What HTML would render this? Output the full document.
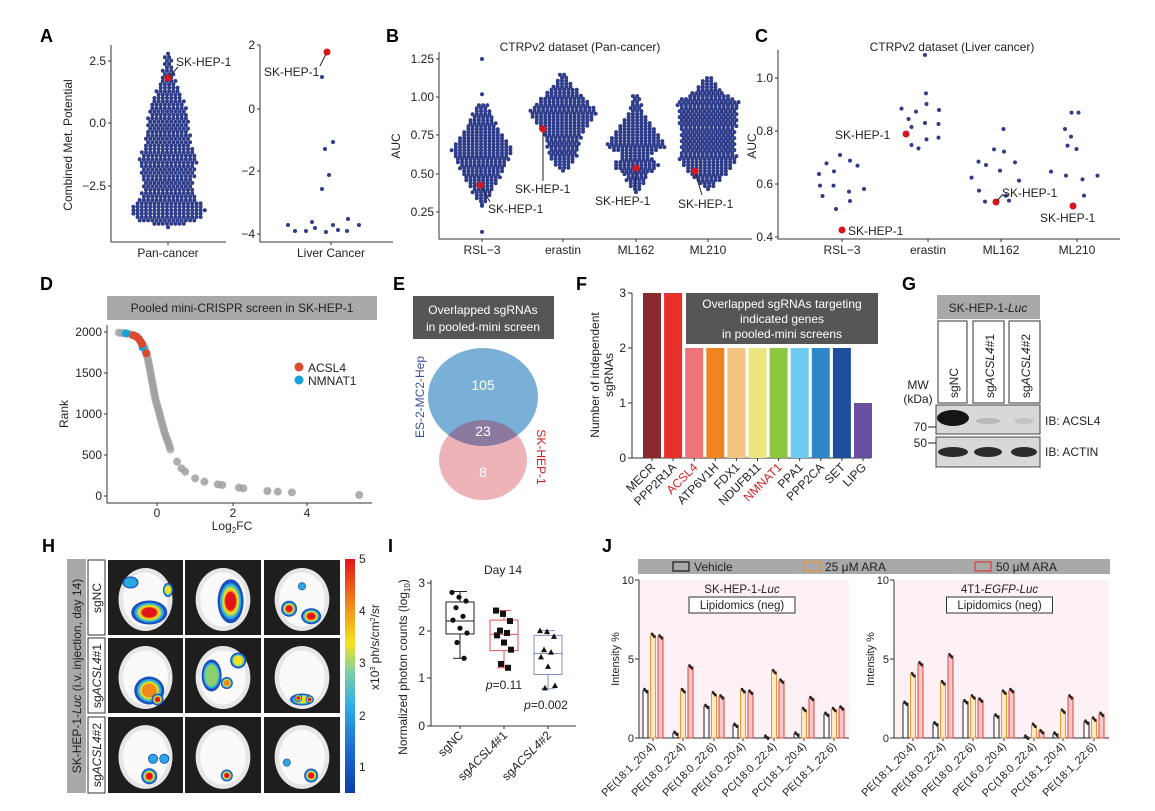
<!DOCTYPE html>
<html><head><meta charset="utf-8"><style>
html,body{margin:0;padding:0;background:#fff;}
svg{display:block;font-family:"Liberation Sans",Arial,sans-serif;}
.t{font-size:12px;fill:#222}
.pl{font-size:18px;font-weight:bold;fill:#000}
</style></head><body>
<svg id="s" width="1155" height="811" viewBox="0 0 1155 811" xmlns="http://www.w3.org/2000/svg">
<defs>
<linearGradient id="jet" x1="0" y1="1" x2="0" y2="0">
<stop offset="0" stop-color="#0a3fa8"/><stop offset="0.2" stop-color="#1f6fd0"/><stop offset="0.38" stop-color="#2fb0e6"/><stop offset="0.52" stop-color="#7fd0a0"/><stop offset="0.64" stop-color="#f2e41c"/><stop offset="0.8" stop-color="#f28a1a"/><stop offset="1" stop-color="#e3141a"/>
</linearGradient>
</defs>
<text class="pl" x="40" y="42">A</text><text class="pl" x="386" y="42">B</text><text class="pl" x="755" y="42">C</text>
<text class="pl" x="40" y="290">D</text><text class="pl" x="393" y="290">E</text><text class="pl" x="576" y="290">F</text><text class="pl" x="902" y="290">G</text>
<text class="pl" x="42" y="552">H</text><text class="pl" x="388" y="552">I</text><text class="pl" x="602" y="552">J</text>

<g stroke="#333" stroke-width="1" fill="none">
<path d="M111 45 V242 H226"/><path d="M260 45 V242 H393"/>
<path d="M108 61h3M108 123h3M108 186h3M257 45h3M257 109h3M257 171h3M257 234h3M168 242v3M331 242v3"/>
</g>
<g class="t" text-anchor="end" font-size="12">
<text x="106" y="65">2.5</text><text x="106" y="127">0.0</text><text x="106" y="190">−2.5</text>
<text x="255" y="49">2</text><text x="255" y="113">0</text><text x="255" y="175">−2</text><text x="255" y="238">−4</text>
</g>
<text class="t" x="72" y="145" transform="rotate(-90 72 145)" text-anchor="middle">Combined Met. Potential</text>
<text class="t" x="168" y="257" text-anchor="middle">Pan-cancer</text>
<text class="t" x="331" y="257" text-anchor="middle">Liver Cancer</text>
<g id="swA"></g>
<circle cx="168" cy="78" r="3.5" fill="#d9161c"/>
<line x1="170" y1="76" x2="178" y2="67" stroke="#222"/>
<text class="t" x="176" y="66">SK-HEP-1</text>
<g id="liverA" fill="#2e3d8a"></g>
<circle cx="327" cy="52" r="3.5" fill="#d9161c"/>
<line x1="326" y1="54" x2="320" y2="66" stroke="#222"/>
<text class="t" x="264" y="76">SK-HEP-1</text>

<text class="t" x="580" y="51" text-anchor="middle">CTRPv2 dataset (Pan-cancer)</text>
<g stroke="#333" fill="none"><path d="M439 52 V239 H752"/><path d="M436 59h3M436 97h3M436 135h3M436 174h3M436 212h3M482 239v3M563 239v3M636 239v3M708 239v3"/></g>
<g class="t" text-anchor="end"><text x="434" y="63">1.25</text><text x="434" y="101">1.00</text><text x="434" y="139">0.75</text><text x="434" y="178">0.50</text><text x="434" y="216">0.25</text></g>
<text class="t" x="400" y="146" transform="rotate(-90 400 146)" text-anchor="middle">AUC</text>
<g class="t" text-anchor="middle"><text x="482" y="254">RSL−3</text><text x="563" y="254">erastin</text><text x="636" y="254">ML162</text><text x="708" y="254">ML210</text></g>
<g id="swB"></g>
<g stroke="#222"><line x1="481" y1="186" x2="490" y2="202"/><line x1="543" y1="130" x2="543" y2="181"/><line x1="636" y1="169" x2="635" y2="190"/><line x1="695" y1="172" x2="702" y2="195"/></g>
<g fill="#d9161c"><circle cx="480" cy="185" r="3.5"/><circle cx="543" cy="129" r="3.5"/><circle cx="636" cy="168" r="3.5"/><circle cx="695" cy="171" r="3.5"/></g>
<g class="t"><text x="488" y="213">SK-HEP-1</text><text x="515" y="193">SK-HEP-1</text><text x="595" y="205">SK-HEP-1</text><text x="678" y="208">SK-HEP-1</text></g>

<text class="t" x="952" y="51" text-anchor="middle">CTRPv2 dataset (Liver cancer)</text>
<g stroke="#333" fill="none"><path d="M778 50 V239 H1120"/><path d="M775 78h3M775 131h3M775 184h3M775 237h3M842 239v3M928 239v3M1001 239v3M1077 239v3"/></g>
<g class="t" text-anchor="end"><text x="773" y="82">1.0</text><text x="773" y="135">0.8</text><text x="773" y="188">0.6</text><text x="773" y="241">0.4</text></g>
<text class="t" x="756" y="146" transform="rotate(-90 756 146)" text-anchor="middle">AUC</text>
<g class="t" text-anchor="middle"><text x="842" y="254">RSL−3</text><text x="928" y="254">erastin</text><text x="1001" y="254">ML162</text><text x="1077" y="254">ML210</text></g>
<g id="swC" fill="#2e3d8a"></g>
<g fill="#d9161c"><circle cx="842" cy="230" r="3.5"/><circle cx="906" cy="134" r="3.5"/><circle cx="996" cy="202" r="3.5"/><circle cx="1073" cy="206" r="3.5"/></g>
<g class="t"><text x="848" y="235">SK-HEP-1</text><text x="835" y="139">SK-HEP-1</text><text x="1002" y="197">SK-HEP-1</text><text x="1040" y="222">SK-HEP-1</text></g>
<line x1="997" y1="201" x2="1003" y2="194" stroke="#222"/>

<rect x="107" y="296" width="270" height="24" fill="#a9a9a9"/>
<text class="t" x="242" y="312" text-anchor="middle" font-size="12">Pooled mini-CRISPR screen in SK-HEP-1</text>
<g stroke="#333" fill="none"><path d="M107 325 V503 H372"/><path d="M104 332h3M104 373h3M104 414h3M104 455h3M104 496h3M157 503v3M233 503v3M307 503v3"/></g>
<g class="t" text-anchor="end"><text x="102" y="336">2000</text><text x="102" y="377">1500</text><text x="102" y="418">1000</text><text x="102" y="459">500</text><text x="102" y="500">0</text></g>
<g class="t" text-anchor="middle"><text x="157" y="517">0</text><text x="233" y="517">2</text><text x="307" y="517">4</text></g>
<text class="t" x="232" y="530" text-anchor="middle">Log<tspan font-size="8" dy="3">2</tspan><tspan dy="-3">FC</tspan></text>
<text class="t" x="68" y="414" transform="rotate(-90 68 414)" text-anchor="middle">Rank</text>
<g id="dD"></g>
<circle cx="299" cy="367" r="4.5" fill="#d94a2e"/><text class="t" x="308" y="372">ACSL4</text>
<circle cx="299" cy="380" r="4.5" fill="#19a0dc"/><text class="t" x="308" y="385">NMNAT1</text>

<rect x="413" y="296" width="141" height="43" fill="#555"/>
<text x="483" y="314" fill="#fff" font-size="12" text-anchor="middle">Overlapped sgRNAs</text>
<text x="483" y="331" fill="#fff" font-size="12" text-anchor="middle">in pooled-mini screen</text>
<ellipse cx="483" cy="460" rx="44" ry="40" fill="#eeb2b9"/>
<ellipse cx="483" cy="397" rx="55" ry="49" fill="#7ab0d8"/>
<clipPath id="cp"><ellipse cx="483" cy="460" rx="44" ry="40"/></clipPath>
<ellipse cx="483" cy="397" rx="55" ry="49" fill="#8a7aa0" clip-path="url(#cp)"/>
<g fill="#fff" font-size="14" text-anchor="middle"><text x="483" y="390">105</text><text x="483" y="436">23</text><text x="483" y="477">8</text></g>
<text x="424" y="397" font-size="12" fill="#3a4fa0" text-anchor="middle" transform="rotate(-90 424 397)">ES-2-MC2-Hep</text>
<text x="537" y="457" font-size="12" fill="#d32020" text-anchor="middle" transform="rotate(90 537 457)">SK-HEP-1</text>

<g stroke="#333" fill="none"><path d="M632 293 V458 H871"/><path d="M628 293h4M628 348h4M628 403h4M628 458h4"/></g>
<g class="t" text-anchor="end"><text x="626" y="297">3</text><text x="626" y="352">2</text><text x="626" y="407">1</text><text x="626" y="462">0</text></g>
<text class="t" x="599" y="375" transform="rotate(-90 599 375)" text-anchor="middle">Number of independent</text>
<text class="t" x="613" y="375" transform="rotate(-90 613 375)" text-anchor="middle">sgRNAs</text>
<g id="barsF"></g>
<rect x="686" y="293" width="192" height="51" fill="#555"/>
<g fill="#fff" font-size="12" text-anchor="middle"><text x="782" y="308">Overlapped sgRNAs targeting</text><text x="782" y="323">indicated genes</text><text x="782" y="338">in pooled-mini screens</text></g>

<rect x="937" y="295" width="103" height="24" fill="#a9a9a9"/>
<text class="t" x="988" y="312" text-anchor="middle">SK-HEP-1-<tspan font-style="italic">Luc</tspan></text>
<g fill="#fff" stroke="#333"><rect x="938" y="321" width="29" height="82"/><rect x="973" y="321" width="31" height="82"/><rect x="1009" y="321" width="31" height="82"/></g>
<g class="t" font-size="11.5"><text transform="translate(958 398) rotate(-90)">sgNC</text><text transform="translate(994 398) rotate(-90)">sg<tspan font-style="italic">ACSL4</tspan>#1</text><text transform="translate(1030 398) rotate(-90)">sg<tspan font-style="italic">ACSL4</tspan>#2</text></g>
<text class="t" x="918" y="389" text-anchor="middle">MW</text><text class="t" x="918" y="403" text-anchor="middle">(kDa)</text>
<rect x="936" y="405" width="104" height="29" fill="#d8d8d8" stroke="#444"/>
<rect x="936" y="437" width="104" height="30" fill="#d8d8d8" stroke="#444"/>
<ellipse cx="953" cy="418" rx="16" ry="8" fill="#151515"/>
<ellipse cx="988" cy="421" rx="12" ry="3" fill="#b8b8b8"/><ellipse cx="1024" cy="421" rx="10" ry="3" fill="#c4c4c4"/>
<ellipse cx="953" cy="452" rx="15" ry="5" fill="#2a2a2a"/><ellipse cx="988" cy="452" rx="14" ry="5" fill="#2a2a2a"/><ellipse cx="1024" cy="452" rx="13" ry="5" fill="#2a2a2a"/>
<g stroke="#222"><line x1="928" y1="427" x2="936" y2="427"/><line x1="928" y1="443" x2="936" y2="443"/></g>
<g class="t" text-anchor="end"><text x="927" y="431">70</text><text x="927" y="447">50</text></g>
<g class="t"><text x="1045" y="425">IB: ACSL4</text><text x="1045" y="456">IB: ACTIN</text></g>

<rect x="67" y="559" width="19" height="234" fill="#a9a9a9"/>
<text class="t" transform="translate(81 676) rotate(-90)" text-anchor="middle">SK-HEP-1-<tspan font-style="italic">Luc</tspan> (i.v. injection, day 14)</text>
<g fill="#fff" stroke="#333"><rect x="88" y="560" width="17" height="75"/><rect x="88" y="638" width="17" height="75"/><rect x="88" y="717" width="17" height="76"/></g>
<g class="t"><text transform="translate(101 598) rotate(-90)" text-anchor="middle">sgNC</text><text transform="translate(101 676) rotate(-90)" text-anchor="middle">sg<tspan font-style="italic">ACSL4</tspan>#1</text><text transform="translate(101 755) rotate(-90)" text-anchor="middle">sg<tspan font-style="italic">ACSL4</tspan>#2</text></g>
<g id="brains"></g>
<rect x="345" y="559" width="10" height="234" fill="url(#jet)"/>
<g class="t" font-size="11"><text x="359" y="563">5</text><text x="359" y="615">4</text><text x="359" y="667">3</text><text x="359" y="720">2</text><text x="359" y="771">1</text></g>
<text class="t" font-size="10" transform="translate(379 647) rotate(-90)" text-anchor="middle">x10<tspan font-size="7" dy="-4">3</tspan><tspan dy="4"> ph/s/cm</tspan><tspan font-size="7" dy="-4">2</tspan><tspan dy="4">/sr</tspan></text>

<text class="t" x="503" y="574" text-anchor="middle">Day 14</text>
<g stroke="#333" fill="none"><path d="M431 580 V726 H576"/><path d="M427 583h4M427 631h4M427 678h4M427 726h4M460 726v3M504 726v3M548 726v3"/></g>
<g class="t" text-anchor="end"><text x="425" y="587">3</text><text x="425" y="635">2</text><text x="425" y="682">1</text><text x="425" y="730">0</text></g>
<text class="t" transform="translate(407 667) rotate(-90)" text-anchor="middle">Normalized photon counts (log<tspan font-size="8" dy="3">10</tspan><tspan dy="-3">)</tspan></text>
<g id="boxI"></g>
<g class="t"><text x="504" y="689" text-anchor="middle"><tspan font-style="italic">p</tspan>=0.11</text><text x="546" y="709" text-anchor="middle"><tspan font-style="italic">p</tspan>=0.002</text></g>
<g class="t" text-anchor="end"><text transform="translate(464 736) rotate(-45)">sgNC</text><text transform="translate(508 736) rotate(-45)">sg<tspan font-style="italic">ACSL4</tspan>#1</text><text transform="translate(552 736) rotate(-45)">sg<tspan font-style="italic">ACSL4</tspan>#2</text></g>

<rect x="638" y="559" width="472" height="15" fill="#a9a9a9"/>
<g fill="none" stroke-width="1.3"><rect x="673" y="562" width="16" height="9" stroke="#222"/><rect x="804" y="562" width="16" height="9" stroke="#e8963a"/><rect x="975" y="562" width="16" height="9" stroke="#d9463c"/></g>
<g class="t"><text x="694" y="571">Vehicle</text><text x="825" y="571">25 μM ARA</text><text x="996" y="571">50 μM ARA</text></g>
<g id="J"></g>
</svg>
<script>
const NS="http://www.w3.org/2000/svg";
function el(p,t,a){const e=document.createElementNS(NS,t);for(const k in a)e.setAttribute(k,a[k]);p.appendChild(e);return e;}
function interp(pts,v){if(v<=pts[0][0])return pts[0][1];for(let i=1;i<pts.length;i++){if(v<=pts[i][0]){const[a,b]=pts[i-1],[c,d]=pts[i];return b+(d-b)*(v-a)/(c-a);}}return pts[pts.length-1][1];}
function swarm(g,cx,prof,yOf,col,step){const v0=prof[0][0],v1=prof[prof.length-1][0];let row=0;
 for(let y=yOf(v0);y>=yOf(v1);y-=step){
  let lo=v0,hi=v1;for(let k=0;k<30;k++){const m=(lo+hi)/2;if(yOf(m)>y)lo=m;else hi=m;}
  const w=interp(prof,lo);const n=Math.max(1,Math.floor(2*w/4.2)+1);const off=(row%2)*2.1;
  for(let i=0;i<n;i++){let x=cx-(n-1)*2.1+i*4.2+(n>1?off-1:0);el(g,"circle",{cx:x.toFixed(1),cy:y.toFixed(1),r:2,fill:col});}row++;}}
const blue="#2e3d8a";
const yA=v=>123-v*24.8;
swarm(document.getElementById("swA"),168,[[-4.2,2],[-3.9,30],[-3.5,38],[-3.0,27],[-2.5,24],[-1.5,28],[-0.8,22],[0,20],[0.5,18],[1,14],[1.5,8],[2.2,4],[2.8,2]],yA,blue,3.4);
const lA=[[322,77],[325,149],[333,142],[329,175],[322,189],[288,225],[295,231],[306,231],[312,222],[315,228],[326,232],[333,225],[338,230],[348,219],[347,231],[359,225]];
lA.forEach(p=>el(document.getElementById("liverA"),"circle",{cx:p[0],cy:p[1],r:2}));
const yB=v=>212-(v-0.25)*153, gB=document.getElementById("swB");
swarm(gB,482,[[0.3,2],[0.45,15],[0.65,30],[0.8,15],[0.95,4]],yB,blue,3);
swarm(gB,563,[[0.52,2],[0.6,12],[0.75,18],[0.9,34],[1.0,20],[1.1,6],[1.15,2]],yB,blue,3);
swarm(gB,636,[[0.38,2],[0.5,12],[0.55,24],[0.62,12],[0.68,30],[0.78,18],[0.9,6],[1.02,2]],yB,blue,3);
swarm(gB,708,[[0.4,2],[0.5,18],[0.6,28],[0.7,26],[0.85,28],[0.97,30],[1.05,10],[1.14,2]],yB,blue,3);
[[482,yB(1.25)],[482,yB(1.02)],[482,yB(0.12)],[482,yB(0.29)]].forEach(p=>el(gB,"circle",{cx:p[0],cy:p[1],r:2,fill:blue}));
const cz=[[893,400],[878,432],[908,424],[920,375],[880,467],[907,467],[940,392],[955,407],[968,477],[938,485],[885,498],[940,513],[912,537],[1043,236],[1057,267],[1072,245],[1092,190],[1063,291],[1090,279],[1118,240],[1117,282],[1093,222],[1063,345],[1077,355],[1093,328],[1117,323],[1090,75],[1183,443],[1197,395],[1212,405],[1228,358],[1248,365],[1240,422],[1247,297],[1270,397],[1278,452],[1198,482],[1210,515],[1252,497],[1258,512],[1342,425],[1370,297],[1375,347],[1393,357],[1382,320],[1383,248],[1397,248],[1372,437],[1405,448],[1435,437],[1408,497]];
cz.forEach(p=>el(document.getElementById("swC"),"circle",{cx:380+p[0]/2,cy:30+p[1]/3,r:2}));
const gD=document.getElementById("dD");
const curve=[[320,188],[350,192],[370,200],[390,230],[400,270],[410,330],[420,390],[428,420],[435,450],[445,490],[455,520],[462,545]];
for(let i=1;i<curve.length;i++){const[a,b]=curve[i-1],[c,d]=curve[i];const L=Math.hypot((c-a)/2.7,(d-b)/3);const n=Math.ceil(L/2.5);
 for(let k=0;k<n;k++){const t=k/n;el(gD,"circle",{cx:(a+(c-a)*t)/2.7,cy:270+(b+(d-b)*t)/3,r:4,fill:"#a0a0a0","fill-opacity":0.7});}}
[[478,575],[490,595],[500,605],[527,625],[552,635],[588,643],[600,645],[645,653],[657,655],[722,663],[750,665],[788,667],[970,675]].forEach(p=>el(gD,"circle",{cx:p[0]/2.7,cy:270+p[1]/3,r:4,fill:"#a0a0a0","fill-opacity":0.85}));
[[340,190,"#19a0dc"],[385,232,"#19a0dc"],[360,196,"#d94a2e"],[368,200,"#d94a2e"],[375,207,"#d94a2e"],[380,215,"#d94a2e"],[383,222,"#d94a2e"],[395,250,"#d94a2e"]].forEach(p=>el(gD,"circle",{cx:p[0]/2.7,cy:270+p[1]/3,r:4,fill:p[2]}));
const gF=document.getElementById("barsF");
const cols=["#8b2a2e","#e8302a","#ef7378","#f0851f","#f5c382","#ede67e","#8dc63f","#6ccbee","#2e88c8","#1b4f9c","#6a4fa0"];
const hts=[3,3,2,2,2,2,2,2,2,2,1];const names=["MECR","PPP2R1A","ACSL4","ATP6V1H","FDX1","NDUFB11","NMNAT1","PPA1","PPP2CA","SET","LIPG"];
for(let i=0;i<11;i++){const x=643+i*21.1;el(gF,"rect",{x:x,y:458-hts[i]*55,width:18,height:hts[i]*55,fill:cols[i]});
 el(gF,"line",{x1:x+9,y1:458,x2:x+9,y2:461,stroke:"#333"});
 const t=el(gF,"text",{transform:`translate(${x+13} 468) rotate(-45)`,"text-anchor":"end","font-size":"12",fill:(i==2||i==6)?"#d32020":"#222"});t.textContent=names[i];}
const gH=document.getElementById("brains");
const cxs=[108,185,264],rys=[560,638,717],cw=[76,77,77];
function hs(cx,cy,rx,ry,lvl){const c=["#1a4fbf","#2aa8e0","#8ad070","#f0e020","#f28a1a","#e3141a"];const sc=[1,0.82,0.7,0.6,0.5,0.42];
 for(let i=0;i<=lvl;i++)el(gH,"ellipse",{cx,cy,rx:rx*sc[i],ry:ry*sc[i],fill:c[i]});}
const spots=[[[[0.55,0.7,18,12,5],[0.3,0.3,8,6,1],[0.8,0.4,5,7,3]],[[0.6,0.55,13,22,5]],[[0.33,0.65,8,8,5],[0.62,0.75,10,8,5],[0.5,0.35,4,4,1]]],
[[[0.55,0.7,15,14,4],[0.66,0.82,6,6,5]],[[0.35,0.5,10,16,2],[0.7,0.3,8,8,3],[0.55,0.6,6,6,4]],[[0.5,0.82,12,6,3],[0.45,0.8,4,4,5],[0.6,0.82,4,4,5]]],
[[[0.55,0.78,8,8,5],[0.6,0.55,5,5,1],[0.75,0.55,5,5,1]],[[0.55,0.77,6,6,5]],[[0.62,0.77,7,7,5],[0.3,0.6,4,4,1]]]];
for(let r=0;r<3;r++)for(let c=0;c<3;c++){const x=cxs[c],y=rys[r],w=cw[c]-1,h=(r==2?76:75);
 el(gH,"rect",{x,y,width:w,height:h,fill:"#1e1e1e"});
 el(gH,"ellipse",{cx:x+w/2,cy:y+h/2+2,rx:w*0.36,ry:h*0.42,fill:"#e6e6e6"});
 el(gH,"ellipse",{cx:x+w/2,cy:y+h/2+2,rx:w*0.3,ry:h*0.36,fill:"#fafafa"});
 spots[r][c].forEach(s=>hs(x+s[0]*w,y+s[1]*h,s[2],s[3],s[4]));}
const gI=document.getElementById("boxI");const yI=v=>726-v*47.7;
const bx=[[460,1.42,1.93,2.2,2.6,2.82,"#222",[2.8,2.7,2.62,2.48,2.3,2.22,2.05,1.95,1.75,1.42],"c"],
[504,1.22,1.58,1.92,2.22,2.42,"#e05050",[2.42,2.35,2.2,2.0,1.95,1.9,1.75,1.6,1.3,1.22],"s"],
[548,0.78,1.08,1.52,1.9,2.0,"#7c8fc0",[2.0,1.98,1.88,1.6,1.55,1.45,1.25,0.85,0.8],"t"]];
bx.forEach(b=>{const[x,lo,q1,m,q3,hi,c,pts,sh]=b;
 el(gI,"line",{x1:x,y1:yI(lo),x2:x,y2:yI(hi),stroke:c});
 el(gI,"line",{x1:x-7,y1:yI(lo),x2:x+7,y2:yI(lo),stroke:c});el(gI,"line",{x1:x-7,y1:yI(hi),x2:x+7,y2:yI(hi),stroke:c});
 el(gI,"rect",{x:x-14,y:yI(q3),width:28,height:yI(q1)-yI(q3),fill:"#fff",stroke:c});
 el(gI,"line",{x1:x-14,y1:yI(m),x2:x+14,y2:yI(m),stroke:c});
 pts.forEach((v,i)=>{const px=x+((i*7)%17)-8,py=yI(v);
  if(sh=="c")el(gI,"circle",{cx:px,cy:py,r:2.6,fill:"#111"});
  else if(sh=="s")el(gI,"rect",{x:px-3,y:py-3,width:6,height:6,fill:"#111"});
  else el(gI,"path",{d:`M${px} ${py-3}L${px+3} ${py+2.5}L${px-3} ${py+2.5}Z`,fill:"#111"});});});
const gJ=document.getElementById("J");
const labs=["PE(18:1_20:4)","PE(18:0_22:4)","PE(18:0_22:6)","PE(16:0_20:4)","PC(18:0_22:4)","PC(18:1_20:4)","PE(18:1_22:6)"];
function jplot(ax,right,ticks,vals,title){
 el(gJ,"rect",{x:ax,y:580,width:right-ax,height:158,fill:"#fdf1f5"});
 el(gJ,"path",{d:`M${ax} 580V738H${right}M${ax-4} 580h4M${ax-4} 659h4M${ax-4} 738h4`,stroke:"#333",fill:"none"});
 [["10",584],["5",663],["0",742]].forEach(t=>{const e=el(gJ,"text",{x:ax-5,y:t[1],"text-anchor":"end","font-size":"11",fill:"#222"});e.textContent=t[0];});
 const yl=el(gJ,"text",{transform:`translate(${ax-20} 659) rotate(-90)`,"text-anchor":"middle","font-size":"11",fill:"#222"});yl.textContent="Intensity %";
 const mid=(ax+right)/2-2;
 const tt=el(gJ,"text",{x:mid,y:593,"text-anchor":"middle","font-size":"11.5",fill:"#222"});tt.innerHTML=title;
 el(gJ,"rect",{x:mid-53,y:597,width:106,height:16,fill:"#fff",stroke:"#333"});
 const lt=el(gJ,"text",{x:mid,y:609,"text-anchor":"middle","font-size":"11.5",fill:"#222"});lt.textContent="Lipidomics (neg)";
 const sc=["#222","#e8963a","#d9463c"],fl=["#fff","#fde9c8","#f8c8c8"];
 ticks.forEach((tx,i)=>{el(gJ,"line",{x1:tx,y1:738,x2:tx,y2:741,stroke:"#333"});
  vals[i].forEach((v,k)=>{const x=tx-10+k*7.5;const h=v*15.8;
   el(gJ,"rect",{x:x,y:738-h,width:5,height:h,fill:fl[k],stroke:sc[k],"stroke-width":1});
   for(let d=0;d<3;d++)el(gJ,"circle",{cx:x+1.5+d*1.2,cy:738-h+(d-1)*1.5,r:1.3,fill:"#222"});});
  const e=el(gJ,"text",{transform:`translate(${tx+3} 747) rotate(-45)`,"text-anchor":"end","font-size":"11",fill:"#222"});e.textContent=labs[i];});}
jplot(639,849,[653,683,714,743,774,804,834],[[3,6.5,6.4],[0.3,3,4.5],[2,2.8,2.6],[0.8,3,2.9],[0.05,4.2,3.6],[0.25,1.8,2.5],[1.5,1.8,1.9]],'SK-HEP-1-<tspan font-style="italic">Luc</tspan>');
jplot(894,1109,[913,943,973,1004,1034,1063,1094],[[2.2,4,4.7],[0.9,3.5,5.2],[2.3,2.6,2.4],[1.4,2.9,3.0],[0.05,0.8,0.4],[0.25,1.7,2.6],[1,1.2,1.5]],'4T1-<tspan font-style="italic">EGFP</tspan>-<tspan font-style="italic">Luc</tspan>');
</script>
</body></html>
